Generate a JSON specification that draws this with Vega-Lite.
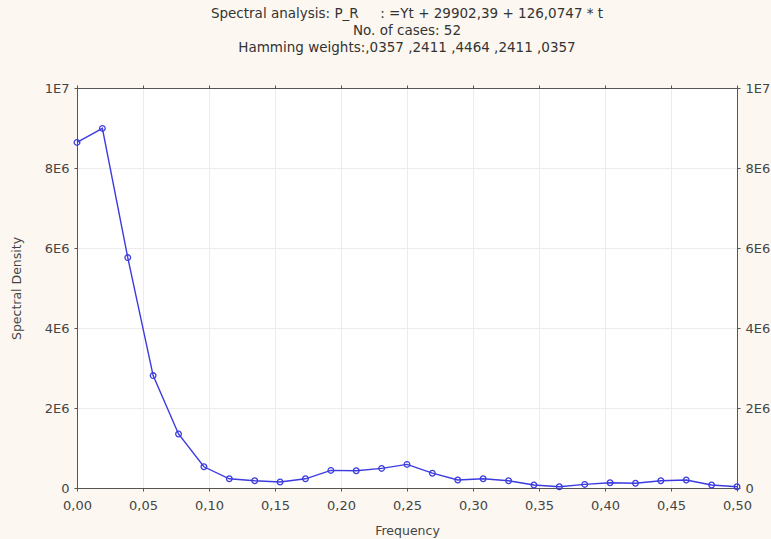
{
  "$schema": "https://vega.github.io/schema/vega-lite/v6.json",
  "width": 660,
  "height": 400,
  "autosize": {"type": "none"},
  "padding": {"left": 77, "top": 88, "right": 34, "bottom": 51},
  "background": "#fcf8f1",
  "config": {
    "font": "DejaVu Sans",
    "view": {"fill": "white", "stroke": "#555", "strokeWidth": 1},
    "axis": {
      "labelFont": "DejaVu Sans",
      "labelFontSize": 13,
      "labelColor": "#444",
      "titleFont": "DejaVu Sans",
      "titleFontSize": 12.5,
      "titleFontWeight": "normal",
      "titleColor": "#444",
      "domainColor": "#555",
      "tickColor": "#555",
      "tickSize": 3,
      "gridColor": "#ececec",
      "gridWidth": 1
    }
  },
  "title": {
    "text": [
      "Spectral analysis: P_R\u00a0\u00a0\u00a0\u00a0 : =Yt + 29902,39 + 126,0747 * t",
      "No. of cases: 52",
      "Hamming weights:,0357 ,2411 ,4464 ,2411 ,0357"
    ],
    "font": "DejaVu Sans",
    "fontSize": 13.5,
    "fontWeight": "normal",
    "color": "#333",
    "lineHeight": 17,
    "anchor": "middle",
    "offset": 28
  },
  "data": {
    "values": [
      {"frequency": 0, "density": 8640000},
      {"frequency": 0.01923, "density": 8990000},
      {"frequency": 0.03846, "density": 5760000},
      {"frequency": 0.05769, "density": 2810000},
      {"frequency": 0.07692, "density": 1350000},
      {"frequency": 0.09615, "density": 530000},
      {"frequency": 0.11538, "density": 230000},
      {"frequency": 0.13462, "density": 180000},
      {"frequency": 0.15385, "density": 150000},
      {"frequency": 0.17308, "density": 230000},
      {"frequency": 0.19231, "density": 440000},
      {"frequency": 0.21154, "density": 430000},
      {"frequency": 0.23077, "density": 490000},
      {"frequency": 0.25, "density": 590000},
      {"frequency": 0.26923, "density": 370000},
      {"frequency": 0.28846, "density": 200000},
      {"frequency": 0.30769, "density": 230000},
      {"frequency": 0.32692, "density": 180000},
      {"frequency": 0.34615, "density": 75000},
      {"frequency": 0.36538, "density": 30000},
      {"frequency": 0.38462, "density": 90000},
      {"frequency": 0.40385, "density": 130000},
      {"frequency": 0.42308, "density": 120000},
      {"frequency": 0.44231, "density": 180000},
      {"frequency": 0.46154, "density": 200000},
      {"frequency": 0.48077, "density": 75000},
      {"frequency": 0.5, "density": 30000}
    ]
  },
  "layer": [
    {
      "mark": {"type": "line", "color": "#3b3be0", "strokeWidth": 1.4, "point": {"shape": "circle", "filled": false, "size": 32, "stroke": "#3b3be0", "strokeWidth": 1.3}},
      "encoding": {
        "x": {
          "field": "frequency", "type": "quantitative",
          "scale": {"domain": [0, 0.5], "nice": false, "zero": false},
          "axis": {"orient": "bottom", "values": [0, 0.05, 0.1, 0.15, 0.2, 0.25, 0.3, 0.35, 0.4, 0.45, 0.5], "labelExpr": "replace(format(datum.value, '.2f'), '.', ',')", "title": "Frequency", "labelPadding": 8, "titleY": 36, "labelFlush": false, "grid": true}
        },
        "y": {
          "field": "density", "type": "quantitative",
          "scale": {"domain": [0, 10000000], "nice": false},
          "axis": {"orient": "left", "values": [0, 2000000, 4000000, 6000000, 8000000, 10000000], "labelExpr": "datum.value == 0 ? '0' : (datum.value >= 10000000 ? '1E7' : (datum.value / 1000000) + 'E6')", "title": "Spectral Density", "titleX": -54, "labelPadding": 5, "grid": true}
        }
      }
    },
    {
      "mark": {"type": "line", "opacity": 0},
      "encoding": {
        "x": {
          "field": "frequency", "type": "quantitative",
          "scale": {"domain": [0, 0.5], "nice": false, "zero": false},
          "axis": {"orient": "top", "values": [0, 0.05, 0.1, 0.15, 0.2, 0.25, 0.3, 0.35, 0.4, 0.45, 0.5], "labels": false, "title": null, "grid": false}
        },
        "y": {
          "field": "density", "type": "quantitative",
          "scale": {"domain": [0, 10000000], "nice": false},
          "axis": {"orient": "right", "values": [0, 2000000, 4000000, 6000000, 8000000, 10000000], "labelExpr": "datum.value == 0 ? '0' : (datum.value >= 10000000 ? '1E7' : (datum.value / 1000000) + 'E6')", "title": null, "labelPadding": 5, "grid": false}
        }
      }
    }
  ],
  "resolve": {"axis": {"x": "independent", "y": "independent"}}
}
